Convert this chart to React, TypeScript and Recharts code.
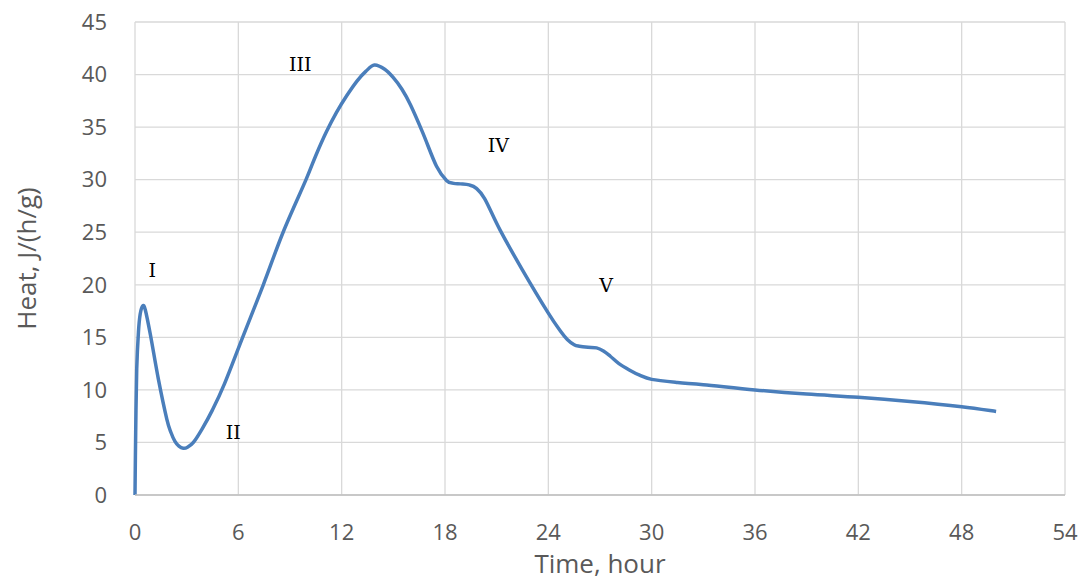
import {
  CartesianGrid,
  Label,
  Line,
  LineChart,
  ReferenceDot,
  XAxis,
  YAxis,
} from "recharts";

// hours since mixing
const hours = [
  0, 0.04, 0.1, 0.2, 0.3, 0.45, 0.6, 0.9, 1.36, 1.85, 2.1, 2.32, 2.55, 2.8,
  3.05, 3.39, 3.9, 4.5, 5.2, 6.25, 7.45, 8.6, 9.93, 10.5, 11.1, 11.7, 12.3,
  12.9, 13.4, 13.9, 14.5, 15.0, 15.5, 16.0, 16.7, 17.5, 18.1, 18.5, 18.9, 19.4,
  19.8, 20.3, 21.2, 22.5, 24.0, 24.7, 25.1, 25.5, 25.8, 26.3, 26.8, 27.2, 27.6,
  28.1, 28.7, 29.3, 30, 31.5, 33, 36, 39, 42, 45, 48, 50,
];

// heat flow, J/(h/g)
const heat = [
  0, 6, 12, 15.5, 17.2, 18, 17.6, 15.2, 11.0, 7.2, 5.9, 5.1, 4.65, 4.45, 4.55,
  5.0, 6.3, 8.1, 10.6, 15, 20, 25, 30, 32.3, 34.5, 36.4, 38.0, 39.4, 40.3, 40.9,
  40.5, 39.7, 38.6, 37.1, 34.5, 31.3, 29.9, 29.65, 29.6, 29.5, 29.2, 28.2, 25.2,
  21.4, 17.3, 15.6, 14.8, 14.3, 14.15, 14.05, 14.0, 13.7, 13.2, 12.5, 11.9,
  11.4, 11.0, 10.7, 10.5, 10.0, 9.6, 9.3, 8.9, 8.4, 7.95,
];

const xTicks = [0, 6, 12, 18, 24, 30, 36, 42, 48, 54];
const yTicks = [0, 5, 10, 15, 20, 25, 30, 35, 40, 45];

// stage markers (roman numerals) placed in data space
const stageNames = ["I", "II", "III", "IV", "V"];
const stageX = [1.0, 5.7, 9.6, 21.1, 27.35];
const stageY = [21.4, 6.0, 41.0, 33.3, 20.0];

const data = hours.map((t, i) => ({ t, heat: heat[i] }));

const axisFont = { fill: "#595959", fontSize: 22, fontFamily: "Open Sans" };

// Excel-style smoothed line (Catmull-Rom through the scaled points)
function smoothCurve(context: any) {
  let pts: number[][] = [];
  return {
    areaStart() {},
    areaEnd() {},
    lineStart() {
      pts = [];
    },
    point(x: number, y: number) {
      pts.push([+x, +y]);
    },
    lineEnd() {
      const n = pts.length;
      if (!n) return;
      context.moveTo(pts[0][0], pts[0][1]);
      for (let i = 0; i < n - 1; i++) {
        const p0 = pts[Math.max(i - 1, 0)];
        const p1 = pts[i];
        const p2 = pts[i + 1];
        const p3 = pts[Math.min(i + 2, n - 1)];
        context.bezierCurveTo(
          p1[0] + (p2[0] - p0[0]) / 6,
          p1[1] + (p2[1] - p0[1]) / 6,
          p2[0] - (p3[0] - p1[0]) / 6,
          p2[1] - (p3[1] - p1[1]) / 6,
          p2[0],
          p2[1]
        );
      }
    },
  };
}

export default function App() {
  return (
    <div style={{ position: "absolute", left: 0, top: 0, background: "#fff" }}>
      <LineChart
        width={1086}
        height={581}
        data={data}
        margin={{ top: 22, right: 21, left: 0, bottom: 0 }}
      >
        <CartesianGrid stroke="#d9d9d9" strokeWidth={1.3} />
        <XAxis
          dataKey="t"
          type="number"
          domain={[0, 54]}
          ticks={xTicks}
          interval={0}
          height={86}
          tickSize={0}
          tickMargin={29}
          tickLine={false}
          axisLine={{ stroke: "#bfbfbf", strokeWidth: 1.3 }}
          tick={axisFont}
        >
          <Label
            value="Time, hour"
            position="insideBottom"
            offset={8}
            style={{ fill: "#595959", fontSize: 26, fontFamily: "Open Sans" }}
          />
        </XAxis>
        <YAxis
          type="number"
          domain={[0, 45]}
          ticks={yTicks}
          interval={0}
          width={135}
          tickSize={0}
          tickMargin={28}
          tickLine={false}
          axisLine={false}
          tick={axisFont}
        >
          <Label
            content={({ viewBox }: any) => {
              const cx = 26;
              const cy = viewBox.y + viewBox.height / 2;
              return (
                <text
                  x={cx}
                  y={cy}
                  transform={`rotate(-90 ${cx} ${cy})`}
                  textAnchor="middle"
                  dominantBaseline="central"
                  fill="#595959"
                  fontSize={26}
                  fontFamily="Open Sans"
                >
                  Heat, J/(h/g)
                </text>
              );
            }}
          />
        </YAxis>
        <Line
          type={smoothCurve as any}
          dataKey="heat"
          stroke="#4a7ebb"
          strokeWidth={3.5}
          dot={false}
          activeDot={false}
          isAnimationActive={false}
        />
        {stageNames.map((name, i) => (
          <ReferenceDot
            key={name}
            x={stageX[i]}
            y={stageY[i]}
            r={0}
            fill="none"
            stroke="none"
            label={{
              value: name,
              position: "center",
              fill: "#000",
              fontSize: 19,
              fontFamily: "DejaVu Serif",
            }}
          />
        ))}
      </LineChart>
    </div>
  );
}
